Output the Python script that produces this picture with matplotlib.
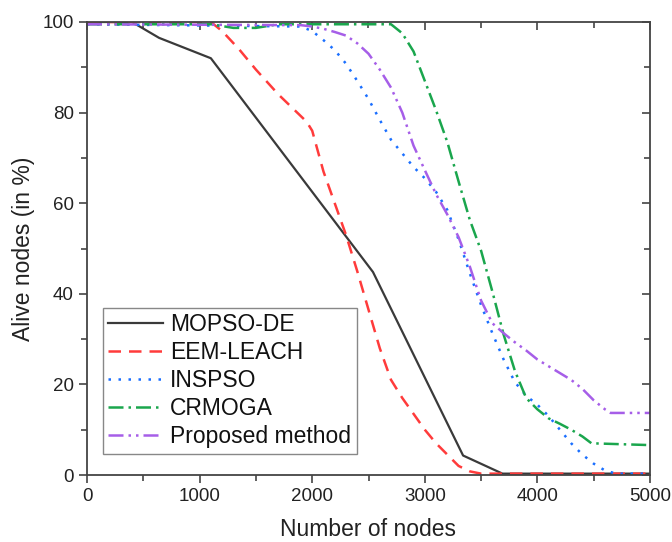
import matplotlib
matplotlib.use("Agg")
import matplotlib.pyplot as plt
from matplotlib.ticker import MultipleLocator

plt.rcParams['font.family'] = ['Liberation Sans', 'DejaVu Sans']

# ---- data ----
mopso_x = [0, 400, 640, 1100, 2540, 3340, 3690, 5000]
mopso_y = [100, 100, 96.5, 92, 44.8, 4.3, 0.3, 0.3]

eem_x = [0, 1100, 1200, 1350, 1500, 1700, 1950, 2000, 2100, 2200, 2300, 2400, 2500,
         2600, 2700, 2800, 2900, 3000, 3100, 3200, 3300, 3400, 3500, 5000]
eem_y = [100, 100, 98, 94, 89.5, 84, 78, 76, 67, 60, 53, 45, 36.5,
         28, 21, 17, 13.5, 10, 7, 4.5, 2, 0.8, 0.3, 0.3]

inspso_x = [0, 1900, 2000, 2100, 2200, 2300, 2400, 2500, 2600, 2700, 2800, 2900, 3000,
            3100, 3200, 3300, 3400, 3500, 3600, 3700, 3800, 3900, 4000, 4100, 4200,
            4300, 4400, 4500, 4600, 4700, 5000]
inspso_y = [99.5, 99, 98, 96, 93.8, 90.8, 87, 83, 78.4, 74, 71, 68, 65.5,
            62.5, 58.5, 52, 44.5, 37.5, 31.3, 25.5, 20.5, 17.5, 15.5, 13, 10,
            7, 4.5, 2.5, 1, 0.3, 0.3]

crmoga_x = [0, 1100, 1300, 1500, 1700, 2700, 2800, 2900, 3000, 3100, 3200, 3300, 3400,
            3500, 3600, 3700, 3800, 3900, 4000, 4100, 4200, 4300, 4400, 4480, 5000]
crmoga_y = [99.5, 99.5, 98.7, 98.7, 99.5, 99.5, 97.5, 93.5, 87, 80.5, 73.5, 64.8, 56.3,
            49.5, 40.5, 31, 23, 17, 14.5, 12.5, 11.3, 10, 8.5, 7, 6.6]

prop_x = [0, 1900, 2000, 2100, 2200, 2300, 2400, 2500, 2600, 2700, 2800, 2900, 3000,
          3100, 3200, 3300, 3400, 3500, 3600, 3700, 3800, 3900, 4000, 4100, 4200,
          4300, 4400, 4500, 4600, 4650, 5000]
prop_y = [99.5, 99.3, 99, 98.5, 97.8, 97, 95.3, 93, 89.5, 85.5, 80, 72.7, 67.3,
          62, 57.5, 52.5, 46, 38.5, 33.5, 31.3, 29.3, 27.5, 25.5, 24, 22.5,
          21, 19, 16.5, 14.5, 13.7, 13.7]

labels = ["MOPSO-DE", "EEM-LEACH", "INSPSO", "CRMOGA", "Proposed method"]

fig = plt.figure(figsize=(6.72, 5.42), dpi=100)
ax = fig.add_axes([87/672, 1-475/542, (650-87)/672, (475-22)/542])

lw = 1.8
ax.plot(mopso_x, mopso_y, color='#3a3a3a', lw=1.6, ls='-', label=labels[0])
ax.plot(eem_x, eem_y, color='#ff3b3b', lw=lw, ls=(0, (5, 3.2)), label=labels[1])
ax.plot(inspso_x, inspso_y, color='#1a6fff', lw=lw, ls=(0, (1, 3)), label=labels[2])
ax.plot(crmoga_x, crmoga_y, color='#1aa64d', lw=lw, ls=(0, (6, 2, 1, 2)), label=labels[3])
ax.plot(prop_x, prop_y, color='#a65ee8', lw=lw, ls=(0, (6, 2, 1, 2, 1, 2)), label=labels[4])

ax.set_xlim(0, 5000)
ax.set_ylim(0, 100)
ax.xaxis.set_major_locator(MultipleLocator(1000))
ax.xaxis.set_minor_locator(MultipleLocator(500))
ax.yaxis.set_major_locator(MultipleLocator(20))
ax.yaxis.set_minor_locator(MultipleLocator(10))

for s in ax.spines.values():
    s.set_color('#444444')
    s.set_linewidth(1.3)

ax.tick_params(which='major', direction='out', length=6, width=1.2, color='#444444',
               labelsize=13.5, labelcolor='#222222', top=False, right=False)
ax.tick_params(which='minor', direction='out', length=4, width=1.2, color='#444444',
               top=False, right=False)
# inward ticks on top/right via secondary axes
sx = ax.secondary_xaxis('top')
sx.xaxis.set_major_locator(MultipleLocator(1000))
sx.xaxis.set_minor_locator(MultipleLocator(500))
sx.tick_params(which='major', direction='in', length=6, width=1.2, color='#444444', labeltop=False)
sx.tick_params(which='minor', direction='in', length=4, width=1.2, color='#444444')
sx.spines['top'].set_visible(False)
sy = ax.secondary_yaxis('right')
sy.yaxis.set_major_locator(MultipleLocator(20))
sy.yaxis.set_minor_locator(MultipleLocator(10))
sy.tick_params(which='major', direction='in', length=6, width=1.2, color='#444444', labelright=False)
sy.tick_params(which='minor', direction='in', length=4, width=1.2, color='#444444')
sy.spines['right'].set_visible(False)

ax.set_xlabel("Number of nodes", fontsize=16.5, color='#222222', labelpad=9)
ax.set_ylabel("Alive nodes (in %)", fontsize=16.5, color='#222222', labelpad=5)

leg = ax.legend(loc='lower left', bbox_to_anchor=(0.028, 0.046), borderaxespad=0,
                fontsize=16.5, handlelength=2.4, handletextpad=0.3, labelspacing=0.22,
                fancybox=False, framealpha=1, edgecolor='#888888', borderpad=0.25)
leg.get_frame().set_linewidth(1.0)
for t in leg.get_texts():
    t.set_color('#111111')

fig.savefig("out.png", dpi=100)
